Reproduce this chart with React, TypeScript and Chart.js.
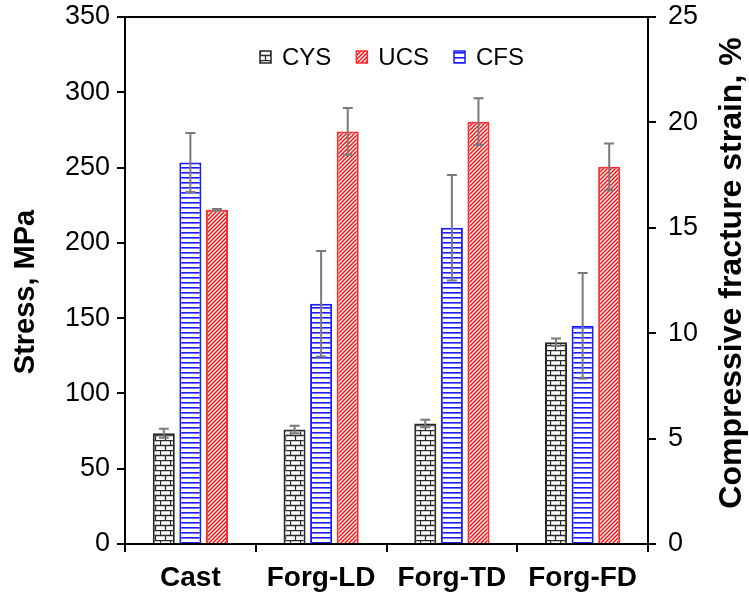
import { useEffect, useRef } from "react";
import { Chart, registerables } from "chart.js";

Chart.register(...registerables);

const categories = ["Cast", "Forg-LD", "Forg-TD", "Forg-FD"];
const cysValues = [73.5, 76, 80, 134];
const cysErrors = [3, 2.5, 2.5, 2.5];
const cfsValues = [18.1, 11.4, 15.0, 10.35];
const cfsErrors = [1.4, 2.5, 2.5, 2.5];
const ucsValues = [222, 274, 280.5, 250.5];
const ucsErrors = [0.5, 15.5, 15.5, 15.5];
const stressTicks = [0, 50, 100, 150, 200, 250, 300, 350];
const strainTicks = [0, 5, 10, 15, 20, 25];
const legendOrder = ["CYS", "UCS", "CFS"];

const FONT = "'Liberation Sans', Arial, sans-serif";

function makeBrick(): CanvasPattern | string {
  const c = document.createElement("canvas");
  c.width = 10;
  c.height = 10;
  const g = c.getContext("2d");
  if (!g) return "#fff";
  g.fillStyle = "#fff";
  g.fillRect(0, 0, 10, 10);
  g.strokeStyle = "#2a2a2a";
  g.lineWidth = 1.3;
  g.beginPath();
  g.moveTo(0, 0.5); g.lineTo(10, 0.5);
  g.moveTo(0, 5.5); g.lineTo(10, 5.5);
  g.moveTo(0.5, 0); g.lineTo(0.5, 5.5);
  g.moveTo(5.5, 5.5); g.lineTo(5.5, 10);
  g.stroke();
  return g.createPattern(c, "repeat") || "#fff";
}

function makeHLines(): CanvasPattern | string {
  const c = document.createElement("canvas");
  c.width = 5;
  c.height = 5;
  const g = c.getContext("2d");
  if (!g) return "#fff";
  g.fillStyle = "#fff";
  g.fillRect(0, 0, 5, 5);
  g.fillStyle = "#1a1aff";
  g.fillRect(0, 2, 5, 1.6);
  return g.createPattern(c, "repeat") || "#fff";
}

function makeDiag(): CanvasPattern | string {
  const s = 4;
  const c = document.createElement("canvas");
  c.width = s;
  c.height = s;
  const g = c.getContext("2d");
  if (!g) return "#fff";
  g.fillStyle = "#fff";
  g.fillRect(0, 0, s, s);
  g.strokeStyle = "#ff1010";
  g.lineWidth = 1.5;
  g.beginPath();
  g.moveTo(0, s); g.lineTo(s, 0);
  g.moveTo(-1, 1); g.lineTo(1, -1);
  g.moveTo(s - 1, s + 1); g.lineTo(s + 1, s - 1);
  g.stroke();
  return g.createPattern(c, "repeat") || "#fff";
}

const errorBarPlugin = {
  id: "errorBars",
  afterDatasetsDraw(chart: any) {
    const ctx = chart.ctx;
    chart.data.datasets.forEach((ds: any, i: number) => {
      const meta = chart.getDatasetMeta(i);
      const scale = chart.scales[meta.yAxisID];
      meta.data.forEach((bar: any, j: number) => {
        const v = ds.data[j];
        const e = ds.errorValues[j];
        const yTop = scale.getPixelForValue(v + e);
        const yBot = scale.getPixelForValue(v - e);
        const x = bar.x;
        ctx.save();
        ctx.strokeStyle = "#7a7a7a";
        ctx.lineWidth = 2;
        ctx.beginPath();
        ctx.moveTo(x, yTop); ctx.lineTo(x, yBot);
        ctx.moveTo(x - 5, yTop); ctx.lineTo(x + 5, yTop);
        ctx.moveTo(x - 5, yBot); ctx.lineTo(x + 5, yBot);
        ctx.stroke();
        ctx.restore();
      });
    });
  },
};

const framePlugin = {
  id: "frameAndText",
  afterDraw(chart: any) {
    const ctx = chart.ctx;
    const { left, right, top } = chart.chartArea;
    ctx.save();
    ctx.strokeStyle = "#000";
    ctx.lineWidth = 2;
    ctx.beginPath();
    ctx.moveTo(left - 1, top);
    ctx.lineTo(right + 1, top);
    ctx.stroke();

    ctx.fillStyle = "#000";
    ctx.textAlign = "center";
    ctx.textBaseline = "middle";
    ctx.font = `bold 29px ${FONT}`;
    ctx.save();
    ctx.translate(26, 292);
    ctx.rotate(-Math.PI / 2);
    ctx.fillText("Stress, MPa", 0, 0);
    ctx.restore();
    ctx.save();
    ctx.translate(732, 273);
    ctx.rotate(-Math.PI / 2);
    ctx.font = `bold 32px ${FONT}`;
    ctx.fillText("Compressive fracture strain, %", 0, 0);
    ctx.restore();

    ctx.font = `24px ${FONT}`;
    ctx.textAlign = "left";
    let x = 260;
    const cy = 57;
    legendOrder.forEach((name) => {
      const idx = chart.data.datasets.findIndex((d: any) => d.label === name);
      const ds = chart.data.datasets[idx];
      ctx.fillStyle = ds.backgroundColor;
      ctx.fillRect(x, cy - 6, 11, 12);
      ctx.strokeStyle = ds.borderColor;
      ctx.lineWidth = 1.5;
      ctx.strokeRect(x, cy - 6, 11, 12);
      ctx.fillStyle = "#000";
      ctx.fillText(name, x + 22, cy + 1);
      x += 22 + ctx.measureText(name).width + 25;
    });
    ctx.restore();
  },
};

export default function App() {
  const canvasRef = useRef<HTMLCanvasElement | null>(null);

  useEffect(() => {
    document.body.style.margin = "0";
    const canvas = canvasRef.current;
    if (!canvas) return;
    const brick = makeBrick();
    const hlines = makeHLines();
    const diag = makeDiag();

    const fitVertical = (w: number) => (scale: any) => {
      scale.width = w;
      scale.paddingTop = 0;
      scale.paddingBottom = 0;
    };

    const chart = new Chart(canvas, {
      type: "bar",
      data: {
        labels: categories,
        datasets: [
          {
            label: "CYS",
            data: cysValues,
            errorValues: cysErrors,
            yAxisID: "y",
            backgroundColor: brick,
            borderColor: "#2a2a2a",
            borderWidth: 2,
          } as any,
          {
            label: "CFS",
            data: cfsValues,
            errorValues: cfsErrors,
            yAxisID: "y1",
            backgroundColor: hlines,
            borderColor: "#1a1aff",
            borderWidth: 2,
          } as any,
          {
            label: "UCS",
            data: ucsValues,
            errorValues: ucsErrors,
            yAxisID: "y",
            backgroundColor: diag,
            borderColor: "#ff2a2a",
            borderWidth: 2,
          } as any,
        ],
      },
      options: {
        responsive: false,
        animation: false,
        devicePixelRatio: 1,
        layout: { padding: { top: 17, left: 0, right: 0, bottom: 0 } },
        datasets: {
          bar: { categoryPercentage: 0.61, barPercentage: 0.83 },
        },
        plugins: {
          legend: { display: false },
          tooltip: { enabled: false },
        },
        scales: {
          x: {
            offset: true,
            grid: {
              offset: true,
              drawOnChartArea: false,
              drawTicks: true,
              tickLength: 8,
              color: "#000",
              lineWidth: 2,
            },
            border: { color: "#000", width: 2 },
            ticks: {
              color: "#000",
              padding: 9,
              font: { family: FONT, size: 28, weight: "bold" },
            },
            afterFit(scale: any) {
              scale.height = 52;
              scale.paddingLeft = 0;
              scale.paddingRight = 0;
            },
          },
          y: {
            position: "left",
            min: 0,
            max: 350,
            afterBuildTicks(scale: any) {
              scale.ticks = stressTicks.map((v) => ({ value: v }));
            },
            grid: {
              drawOnChartArea: false,
              drawTicks: true,
              tickLength: 8,
              color: "#000",
              lineWidth: 2,
            },
            border: { color: "#000", width: 2 },
            ticks: {
              color: "#000",
              padding: 7,
              font: { family: FONT, size: 27 },
            },
            afterFit: fitVertical(125),
          },
          y1: {
            position: "right",
            min: 0,
            max: 25,
            afterBuildTicks(scale: any) {
              scale.ticks = strainTicks.map((v) => ({ value: v }));
            },
            grid: {
              drawOnChartArea: false,
              drawTicks: true,
              tickLength: 8,
              color: "#000",
              lineWidth: 2,
            },
            border: { color: "#000", width: 2 },
            ticks: {
              color: "#000",
              padding: 12,
              font: { family: FONT, size: 27 },
            },
            afterFit: fitVertical(101),
          },
        },
      } as any,
      plugins: [errorBarPlugin, framePlugin],
    });

    return () => {
      chart.destroy();
    };
  }, []);

  return (
    <div style={{ width: 749, height: 596, background: "#fff" }}>
      <canvas ref={canvasRef} width={749} height={596} style={{ display: "block" }} />
    </div>
  );
}
